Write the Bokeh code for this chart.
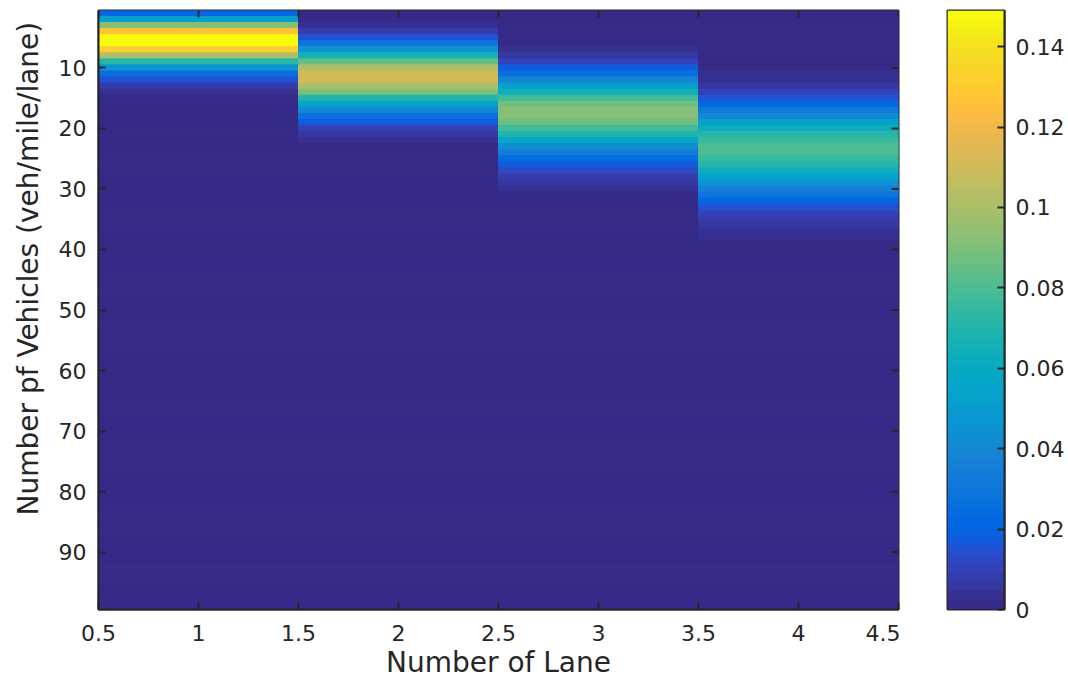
import numpy as np
from bokeh.plotting import figure
from bokeh.layouts import row
from bokeh.models import (LinearColorMapper, FixedTicker, Range1d, Title,
                          ColumnDataSource, CustomJSTickFormatter)
from bokeh.transform import transform
from bokeh.embed import file_html
from bokeh.resources import INLINE

# ---------------- data ----------------
lanes = [1, 2, 3, 4]
n_rows = 99  # vehicles per mile per lane: 1 .. 99

lane1_first_row = 1
lane1 = [0.0223, 0.0521, 0.0912, 0.1277, 0.1490, 0.1490, 0.1304, 0.1014, 0.0710, 0.0452,
         0.0263, 0.0142, 0.0071, 0.0033, 0.0014, 0.0006]

lane2_first_row = 2
lane2 = [0.0008, 0.0027, 0.0070, 0.0152, 0.0281, 0.0457, 0.0661, 0.0859, 0.1015, 0.1099,
         0.1099, 0.1021, 0.0885, 0.0719, 0.0550, 0.0397, 0.0272, 0.0177, 0.0109, 0.0065,
         0.0037, 0.0020, 0.0010]

lane3_first_row = 6
lane3 = [0.0010, 0.0024, 0.0050, 0.0095, 0.0163, 0.0259, 0.0378, 0.0513, 0.0650, 0.0772,
         0.0863, 0.0911, 0.0911, 0.0866, 0.0783, 0.0676, 0.0559, 0.0442, 0.0336, 0.0246,
         0.0173, 0.0117, 0.0077, 0.0049, 0.0030, 0.0018, 0.0010]

lane4_first_row = 10
lane4 = [0.0009, 0.0024, 0.0036, 0.0062, 0.0102, 0.0160, 0.0227, 0.0316, 0.0415, 0.0519,
         0.0618, 0.0702, 0.0763, 0.0795, 0.0795, 0.0765, 0.0708, 0.0632, 0.0545, 0.0454,
         0.0366, 0.0286, 0.0217, 0.0159, 0.0114, 0.0079, 0.0053, 0.0035, 0.0024, 0.0014,
         0.0009]

x_ticks = [0.5, 1, 1.5, 2, 2.5, 3, 3.5, 4, 4.5]
y_ticks = [10, 20, 30, 40, 50, 60, 70, 80, 90]
cbar_ticks = [0, 0.02, 0.04, 0.06, 0.08, 0.1, 0.12, 0.14]
c_low, c_high = 0.0, 0.149

x_title = "Number of Lane"
y_title = "Number pf Vehicles (veh/mile/lane)"

# ---------------- parula colormap (64) ----------------
parula_rgb = [
    (0.2081, 0.1663, 0.5292), (0.2116, 0.1898, 0.5777), (0.2123, 0.2138, 0.6270), (0.2081, 0.2386, 0.6771),
    (0.1959, 0.2645, 0.7279), (0.1707, 0.2919, 0.7792), (0.1253, 0.3242, 0.8303), (0.0591, 0.3598, 0.8683),
    (0.0117, 0.3875, 0.8820), (0.0060, 0.4086, 0.8828), (0.0165, 0.4266, 0.8786), (0.0329, 0.4430, 0.8720),
    (0.0498, 0.4586, 0.8641), (0.0629, 0.4737, 0.8554), (0.0723, 0.4887, 0.8467), (0.0779, 0.5040, 0.8384),
    (0.0793, 0.5200, 0.8312), (0.0749, 0.5375, 0.8263), (0.0641, 0.5570, 0.8240), (0.0488, 0.5772, 0.8228),
    (0.0343, 0.5966, 0.8199), (0.0265, 0.6137, 0.8135), (0.0239, 0.6287, 0.8038), (0.0231, 0.6418, 0.7913),
    (0.0228, 0.6535, 0.7768), (0.0267, 0.6642, 0.7607), (0.0384, 0.6743, 0.7436), (0.0590, 0.6838, 0.7254),
    (0.0843, 0.6928, 0.7062), (0.1133, 0.7015, 0.6859), (0.1453, 0.7098, 0.6646), (0.1801, 0.7177, 0.6424),
    (0.2178, 0.7250, 0.6193), (0.2586, 0.7317, 0.5954), (0.3022, 0.7376, 0.5712), (0.3482, 0.7424, 0.5473),
    (0.3953, 0.7459, 0.5244), (0.4420, 0.7481, 0.5033), (0.4871, 0.7491, 0.4840), (0.5300, 0.7491, 0.4661),
    (0.5709, 0.7485, 0.4494), (0.6099, 0.7473, 0.4337), (0.6473, 0.7456, 0.4188), (0.6834, 0.7435, 0.4044),
    (0.7184, 0.7411, 0.3905), (0.7525, 0.7384, 0.3768), (0.7858, 0.7356, 0.3633), (0.8185, 0.7327, 0.3498),
    (0.8507, 0.7299, 0.3360), (0.8824, 0.7274, 0.3217), (0.9139, 0.7258, 0.3063), (0.9450, 0.7261, 0.2886),
    (0.9739, 0.7314, 0.2666), (0.9938, 0.7455, 0.2403), (0.9990, 0.7653, 0.2164), (0.9955, 0.7861, 0.1967),
    (0.9880, 0.8066, 0.1794), (0.9789, 0.8271, 0.1633), (0.9697, 0.8481, 0.1475), (0.9626, 0.8705, 0.1309),
    (0.9589, 0.8949, 0.1132), (0.9598, 0.9218, 0.0948), (0.9661, 0.9514, 0.0755), (0.9763, 0.9831, 0.0538),
]
PARULA = ["#%02x%02x%02x" % tuple(int(round(c * 255)) for c in rgb) for rgb in parula_rgb]

# ---------------- table ----------------
xs, ys, vals = [], [], []
for lane, first, prof in zip(lanes, [lane1_first_row, lane2_first_row, lane3_first_row, lane4_first_row],
                             [lane1, lane2, lane3, lane4]):
    for r in range(1, n_rows + 1):
        k = r - first
        v = prof[k] if 0 <= k < len(prof) else 0.0
        xs.append(lane)
        ys.append(r)
        vals.append(v)
src = ColumnDataSource(dict(lane=xs, row=ys, value=vals))

mapper = LinearColorMapper(palette=PARULA, low=c_low, high=c_high)

INK = "#262626"
FONT = "DejaVu Sans"
TICK = 7
FRAME_W, FRAME_H = 801, 599

fmt = CustomJSTickFormatter(code="return tick.toString();")

def style_axis(ax, ticks, standoff, size):
    ax.ticker = FixedTicker(ticks=ticks)
    ax.formatter = fmt
    ax.major_tick_in = TICK
    ax.major_tick_out = 0
    ax.minor_tick_in = 0
    ax.minor_tick_out = 0
    ax.major_tick_line_color = INK
    ax.major_tick_line_width = 2
    ax.axis_line_color = INK
    ax.axis_line_width = 2
    ax.major_label_standoff = standoff
    ax.major_label_text_font = FONT
    ax.major_label_text_color = INK
    ax.major_label_text_font_size = size

# ---------------- main heat map ----------------
p = figure(width=900, height=683, x_range=Range1d(0.5, 4.5), y_range=Range1d(n_rows + 0.5, 0.5),
           output_backend="svg", toolbar_location=None,
           min_border_left=97, min_border_top=10, min_border_bottom=74, min_border_right=2)
p.background_fill_color = "white"
p.border_fill_color = "white"
p.outline_line_color = INK
p.outline_line_width = 2
p.grid.visible = False

p.rect(x="lane", y="row", width=1, height=1, source=src,
       fill_color=transform("value", mapper), line_color=transform("value", mapper), line_width=1)

style_axis(p.xaxis[0], x_ticks, 15, "22px")
p.xaxis[0].major_label_text_line_height = 1.05
style_axis(p.yaxis[0], y_ticks, 12, "22px")

# inward ticks on the top and right edges of the box
tly = TICK * n_rows / FRAME_H
tlx = TICK * 4.0 / FRAME_W
p.segment(x0=x_ticks, y0=[0.5] * len(x_ticks), x1=x_ticks, y1=[0.5 + tly] * len(x_ticks),
          line_color=INK, line_width=2)
p.segment(x0=[4.5 - tlx] * len(y_ticks), y0=y_ticks, x1=[4.5] * len(y_ticks), y1=y_ticks,
          line_color=INK, line_width=2)

p.add_layout(Title(text=y_title, align="left", offset=94, standoff=20, vertical_align="middle",
                   text_font=FONT, text_font_size="28px", text_font_style="normal",
                   text_color=INK), "left")
p.add_layout(Title(text=x_title, align="center", standoff=0, text_font=FONT,
                   text_font_size="28px", text_font_style="normal", text_color=INK), "below")

# ---------------- colour bar ----------------
cb = figure(width=168, height=683, x_range=Range1d(0, 1), y_range=Range1d(c_low, c_high),
            output_backend="svg", toolbar_location=None, x_axis_location=None, y_axis_location="right",
            min_border_left=47, min_border_top=10, min_border_bottom=74, min_border_right=64)
cb.background_fill_color = "white"
cb.border_fill_color = "white"
cb.outline_line_color = INK
cb.outline_line_width = 2
cb.grid.visible = False
scale = np.linspace(c_low, c_high, 256).reshape(-1, 1)
cb.image(image=[scale], x=0, y=c_low, dw=1, dh=c_high - c_low, color_mapper=mapper)
style_axis(cb.yaxis[0], cbar_ticks, 11, "22px")

layout = row(p, cb)
open("out.html", "w").write(file_html(layout, INLINE))
